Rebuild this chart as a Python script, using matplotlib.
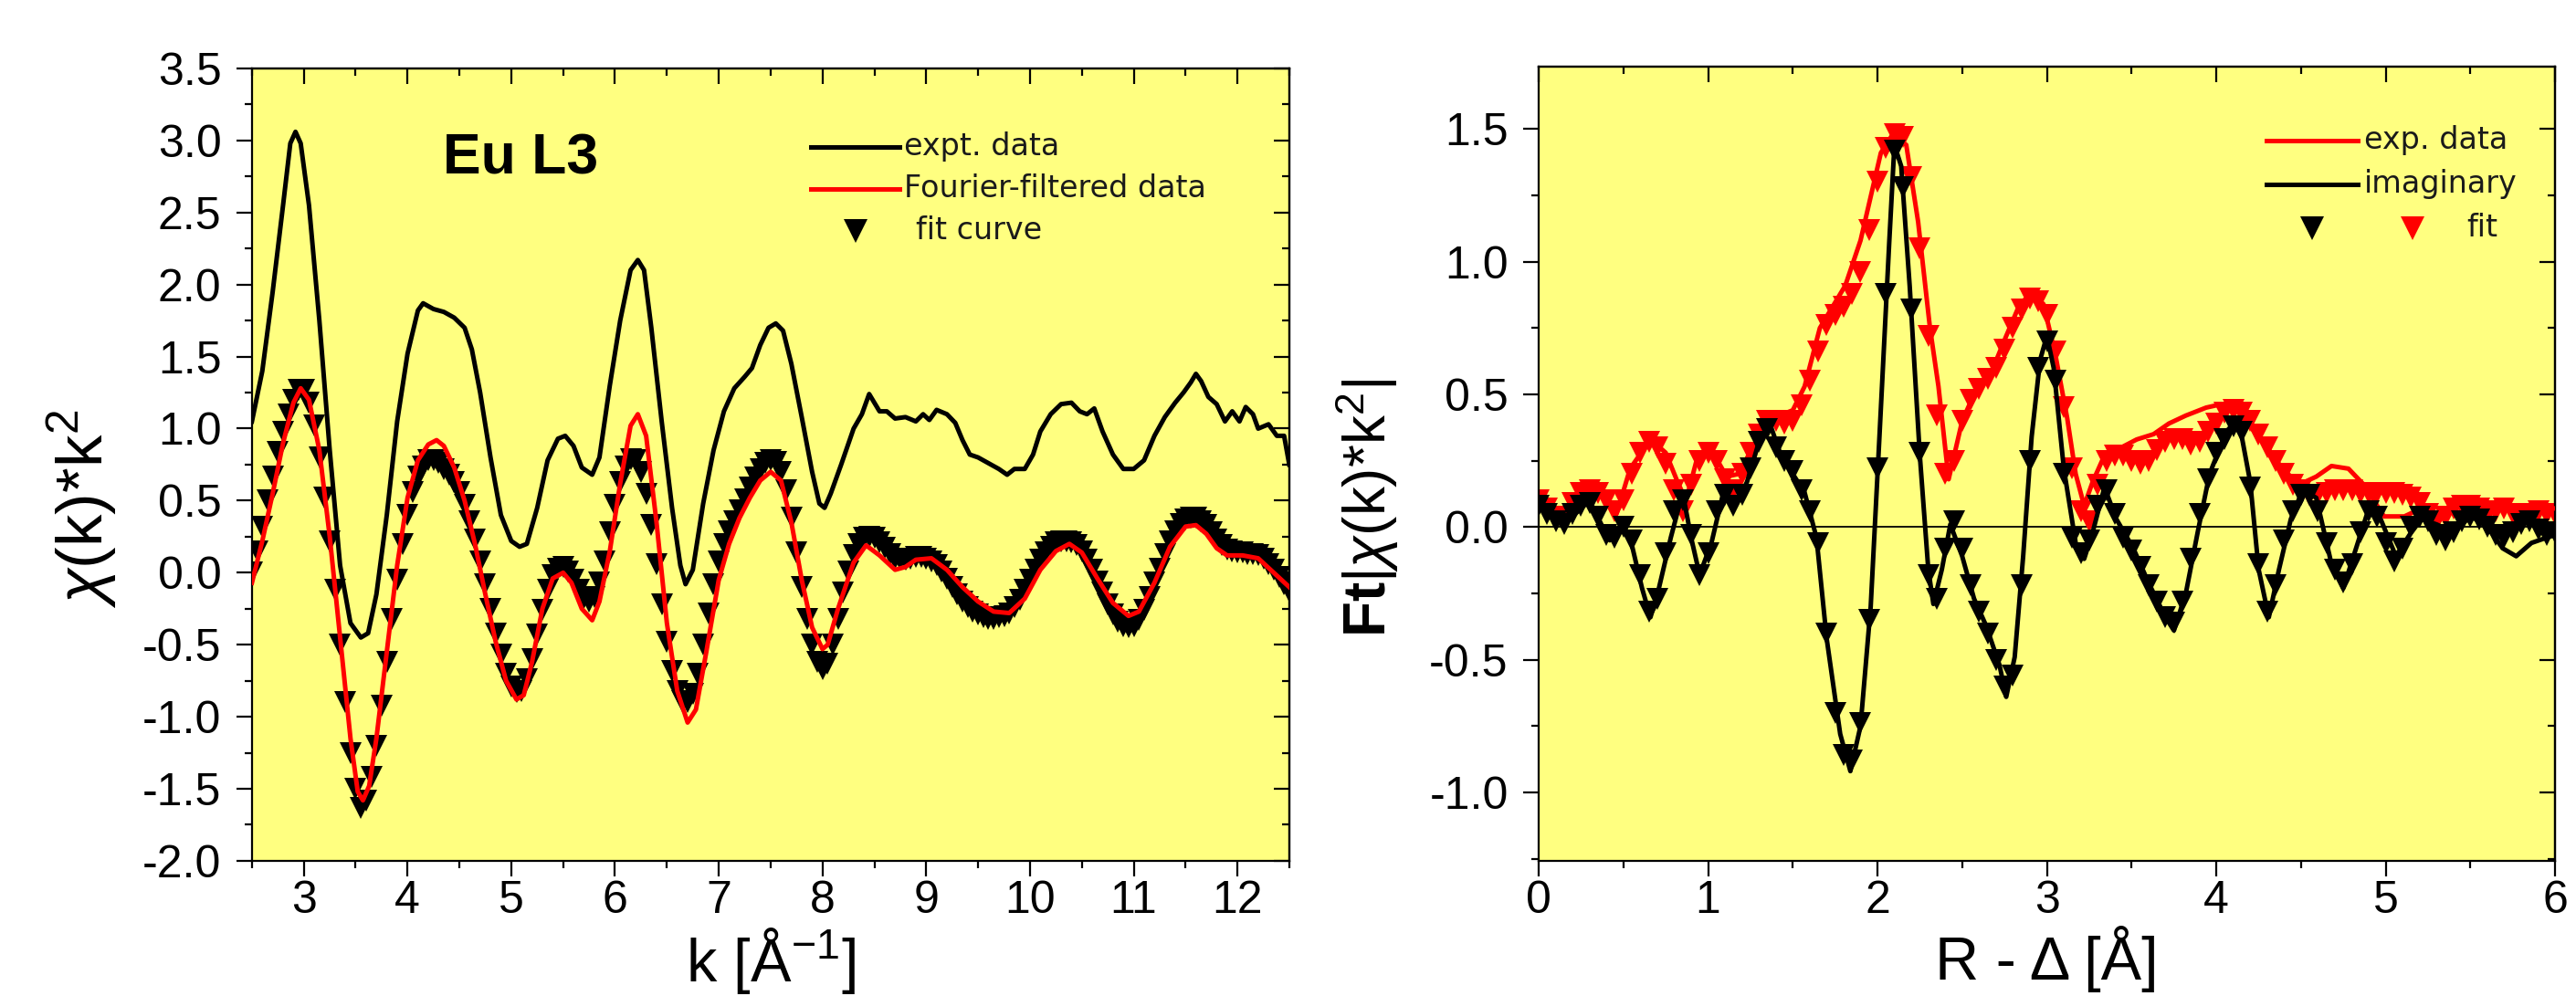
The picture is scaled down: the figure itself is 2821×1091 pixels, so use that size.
import numpy as np
import matplotlib
matplotlib.use('Agg')
import matplotlib.pyplot as plt
from matplotlib.ticker import MultipleLocator, FormatStrFormatter

plt.rcParams['font.family'] = ['Liberation Sans', 'DejaVu Sans']
plt.rcParams['mathtext.fontset'] = 'custom'
plt.rcParams['mathtext.rm'] = 'Liberation Sans'
plt.rcParams['mathtext.it'] = 'Liberation Sans:italic'
plt.rcParams['mathtext.bf'] = 'Liberation Sans:bold'
plt.rcParams['axes.unicode_minus'] = False

YELLOW = '#FFFF80'

# ---------------- k-space (left) ----------------
# expt. data (black line)
k_expt = [2.5, 2.6, 2.7, 2.8, 2.87, 2.92, 2.97, 3.05, 3.15, 3.25, 3.35, 3.45, 3.55, 3.62, 3.7,
          3.8, 3.9, 4.0, 4.1, 4.15, 4.25, 4.35, 4.45, 4.55, 4.62, 4.7, 4.8, 4.9, 5.0, 5.08,
          5.15, 5.25, 5.35, 5.45, 5.52, 5.6, 5.68, 5.78, 5.85, 5.95, 6.05, 6.15, 6.22, 6.28,
          6.35, 6.45, 6.55, 6.63, 6.68, 6.75, 6.85, 6.95, 7.05, 7.15, 7.25, 7.32, 7.4, 7.48,
          7.55, 7.62, 7.7, 7.8, 7.9, 7.97, 8.02, 8.08, 8.18, 8.3, 8.38, 8.45, 8.5, 8.55, 8.62,
          8.7, 8.8, 8.9, 8.97, 9.03, 9.1, 9.2, 9.28, 9.35, 9.42, 9.5, 9.6, 9.7, 9.78, 9.85,
          9.95, 10.03, 10.1, 10.2, 10.3, 10.4, 10.48, 10.55, 10.62, 10.7, 10.8, 10.9, 11.0,
          11.1, 11.2, 11.3, 11.4, 11.48, 11.55, 11.6, 11.65, 11.72, 11.8, 11.88, 11.95, 12.02,
          12.08, 12.15, 12.2, 12.3, 12.38, 12.45, 12.5]
chi_expt = [1.05, 1.40, 1.95, 2.55, 2.98, 3.06, 2.98, 2.55, 1.75, 0.85, 0.05, -0.35, -0.45, -0.42, -0.15,
            0.40, 1.05, 1.52, 1.82, 1.87, 1.83, 1.81, 1.77, 1.70, 1.55, 1.25, 0.80, 0.40, 0.22, 0.18,
            0.20, 0.45, 0.78, 0.93, 0.95, 0.88, 0.73, 0.68, 0.80, 1.30, 1.75, 2.10, 2.17, 2.10,
            1.70, 1.05, 0.45, 0.05, -0.08, 0.02, 0.48, 0.85, 1.12, 1.28, 1.36, 1.42, 1.58, 1.70,
            1.73, 1.68, 1.45, 1.08, 0.70, 0.48, 0.45, 0.55, 0.75, 1.00, 1.10, 1.24, 1.18, 1.12, 1.12,
            1.07, 1.08, 1.05, 1.10, 1.06, 1.13, 1.10, 1.04, 0.92, 0.82, 0.80, 0.76, 0.72, 0.68, 0.72,
            0.72, 0.82, 0.98, 1.10, 1.17, 1.18, 1.12, 1.10, 1.14, 0.98, 0.82, 0.72, 0.72,
            0.78, 0.95, 1.08, 1.18, 1.25, 1.32, 1.38, 1.33, 1.22, 1.17, 1.05, 1.12, 1.05,
            1.15, 1.10, 1.00, 1.03, 0.95, 0.95, 0.75]

# Fourier-filtered data (red line)
k_filt = [2.5, 2.6, 2.7, 2.8, 2.9, 2.97, 3.05, 3.15, 3.25, 3.35, 3.45, 3.52, 3.57, 3.63, 3.7,
          3.8, 3.9, 4.0, 4.1, 4.2, 4.28, 4.35, 4.45, 4.55, 4.65, 4.75, 4.85, 4.95, 5.05, 5.12,
          5.2, 5.3, 5.4, 5.5, 5.58, 5.68, 5.78, 5.85, 5.95, 6.05, 6.15, 6.22, 6.3, 6.4, 6.5,
          6.6, 6.7, 6.78, 6.88, 7.0, 7.1, 7.2, 7.3, 7.4, 7.5, 7.6, 7.7, 7.8, 7.9, 8.0, 8.05,
          8.15, 8.3, 8.42, 8.55, 8.7, 8.8, 8.9, 9.05, 9.2, 9.35, 9.5, 9.65, 9.8, 9.95, 10.1,
          10.25, 10.38, 10.5, 10.65, 10.8, 10.95, 11.05, 11.2, 11.35, 11.5, 11.6, 11.7, 11.8,
          11.9, 12.05, 12.2, 12.35, 12.5]
chi_filt = [-0.07, 0.22, 0.55, 0.90, 1.18, 1.28, 1.20, 0.85, 0.25, -0.45, -1.15, -1.52, -1.58, -1.48, -1.15,
            -0.55, 0.05, 0.52, 0.78, 0.89, 0.92, 0.88, 0.73, 0.50, 0.20, -0.15, -0.48, -0.75, -0.88, -0.85,
            -0.62, -0.25, -0.04, 0.00, -0.07, -0.25, -0.33, -0.20, 0.15, 0.62, 1.02, 1.10, 0.95, 0.35, -0.35,
            -0.82, -1.04, -0.95, -0.55, -0.05, 0.20, 0.38, 0.52, 0.64, 0.70, 0.64, 0.35, -0.05, -0.38, -0.53, -0.50,
            -0.25, 0.07, 0.19, 0.12, 0.02, 0.04, 0.09, 0.10, 0.02, -0.10, -0.20, -0.27, -0.28, -0.18, 0.02,
            0.15, 0.20, 0.14, -0.04, -0.21, -0.30, -0.27, -0.07, 0.18, 0.32, 0.33, 0.27, 0.17,
            0.12, 0.12, 0.10, 0.00, -0.10]

# fit curve (black triangles), read every 0.05 A^-1 from 2.5 to 12.5
k_fit = np.linspace(2.5, 12.5, 201)
chi_fit = [0.00, 0.15, 0.32, 0.50, 0.67, 0.84, 0.98, 1.10, 1.20, 1.27,
           1.27, 1.18, 1.02, 0.80, 0.52, 0.22, -0.12, -0.50, -0.90, -1.25,
           -1.50, -1.63, -1.58, -1.42, -1.20, -0.92, -0.62, -0.32, -0.05, 0.20,
           0.40, 0.56, 0.67, 0.74, 0.78, 0.78, 0.76, 0.72, 0.68, 0.63,
           0.56, 0.47, 0.36, 0.23, 0.08, -0.08, -0.25, -0.42, -0.57, -0.70,
           -0.79, -0.83, -0.82, -0.74, -0.60, -0.43, -0.26, -0.12, -0.02, 0.03,
           0.04, 0.01, -0.05, -0.12, -0.18, -0.20, -0.17, -0.07, 0.08, 0.28,
           0.47, 0.63, 0.74, 0.79, 0.78, 0.70, 0.55, 0.33, 0.06, -0.22,
           -0.48, -0.68, -0.82, -0.89, -0.90, -0.84, -0.70, -0.50, -0.28, -0.08,
           0.08, 0.20, 0.29, 0.36, 0.43, 0.51, 0.59, 0.66, 0.72, 0.76,
           0.78, 0.77, 0.70, 0.57, 0.38, 0.14, -0.10, -0.32, -0.50, -0.62,
           -0.67, -0.63, -0.50, -0.32, -0.14, 0.01, 0.12, 0.20, 0.24, 0.25,
           0.24, 0.21, 0.17, 0.13, 0.10, 0.09, 0.09, 0.10, 0.11, 0.11,
           0.10, 0.08, 0.05, 0.01, -0.04, -0.10, -0.15, -0.20, -0.24, -0.27,
           -0.29, -0.31, -0.32, -0.32, -0.31, -0.30, -0.28, -0.24, -0.19, -0.12,
           -0.05, 0.02, 0.09, 0.14, 0.18, 0.21, 0.22, 0.22, 0.21, 0.19,
           0.15, 0.09, 0.02, -0.06, -0.14, -0.22, -0.29, -0.34, -0.37, -0.38,
           -0.37, -0.33, -0.26, -0.17, -0.07, 0.03, 0.13, 0.22, 0.29, 0.34,
           0.37, 0.38, 0.38, 0.36, 0.33, 0.28, 0.23, 0.19, 0.16, 0.15,
           0.14, 0.14, 0.13, 0.13, 0.12, 0.10, 0.06, 0.02, -0.03, -0.08,
           -0.13]

# ---------------- R-space (right) ----------------
# exp. data, magnitude (red line)
r_mag = [0.0, 0.08, 0.15, 0.25, 0.32, 0.39, 0.46, 0.54, 0.66, 0.75, 0.82, 0.87, 0.94, 1.02, 1.11,
         1.18, 1.28, 1.38, 1.5, 1.57, 1.66, 1.81, 1.9, 2.02, 2.09, 2.17, 2.24, 2.31, 2.36, 2.42,
         2.5, 2.57, 2.67, 2.76, 2.84, 2.91, 2.98, 3.05, 3.12, 3.17, 3.22, 3.27, 3.34, 3.44, 3.53,
         3.63, 3.72, 3.82, 3.94, 4.01, 4.11, 4.2, 4.3, 4.39, 4.49, 4.59, 4.68, 4.78, 4.87, 4.99,
         5.11, 5.21, 5.3, 5.4, 5.5, 5.59, 5.69, 5.78, 5.88, 6.0]
ft_mag = [0.10, 0.07, 0.03, 0.10, 0.14, 0.13, 0.05, 0.22, 0.33, 0.28, 0.17, 0.10, 0.27, 0.29, 0.19,
          0.20, 0.32, 0.41, 0.44, 0.53, 0.75, 0.91, 1.08, 1.41, 1.48, 1.44, 1.15, 0.75, 0.53, 0.18,
          0.40, 0.50, 0.58, 0.72, 0.84, 0.88, 0.84, 0.65, 0.41, 0.20, 0.08, 0.17, 0.27, 0.30, 0.33,
          0.35, 0.39, 0.42, 0.45, 0.46, 0.45, 0.38, 0.30, 0.22, 0.16, 0.19, 0.23, 0.22, 0.16, 0.04,
          0.04, 0.07, 0.01, 0.10, 0.08, 0.05, 0.08, 0.05, 0.08, 0.07]

# imaginary part (black line)
r_im = [0.0, 0.08, 0.15, 0.25, 0.3, 0.37, 0.42, 0.49, 0.54, 0.61, 0.66, 0.71, 0.78, 0.85, 0.9,
        0.95, 1.02, 1.09, 1.16, 1.23, 1.3, 1.37, 1.43, 1.5, 1.57, 1.64, 1.7, 1.78, 1.84, 1.9,
        1.96, 2.01, 2.07, 2.1, 2.14, 2.19, 2.25, 2.3, 2.33, 2.38, 2.43, 2.5, 2.57, 2.64, 2.72,
        2.76, 2.81, 2.86, 2.91, 2.96, 3.0, 3.04, 3.1, 3.17, 3.22, 3.27, 3.34, 3.41, 3.51, 3.6,
        3.7, 3.75, 3.82, 3.89, 3.96, 4.06, 4.13, 4.2, 4.25, 4.31, 4.37, 4.44, 4.51, 4.59, 4.68,
        4.75, 4.82, 4.9, 4.97, 5.06, 5.14, 5.21, 5.3, 5.4, 5.5, 5.59, 5.69, 5.77, 5.86, 5.95, 6.0]
ft_im = [0.08, 0.04, 0.01, 0.07, 0.10, 0.01, -0.05, 0.01, -0.04, -0.23, -0.34, -0.23, -0.04, 0.13, -0.04,
         -0.18, -0.06, 0.13, 0.08, 0.17, 0.32, 0.38, 0.27, 0.20, 0.13, -0.04, -0.42, -0.78, -0.92, -0.75,
         -0.30, 0.32, 1.08, 1.44, 1.36, 0.91, 0.27, -0.16, -0.29, -0.16, 0.01, -0.11, -0.27, -0.37, -0.52,
         -0.64, -0.49, -0.11, 0.34, 0.63, 0.72, 0.60, 0.22, -0.06, -0.12, -0.02, 0.15, 0.03, -0.08, -0.21,
         -0.34, -0.39, -0.25, -0.02, 0.20, 0.36, 0.41, 0.17, -0.16, -0.34, -0.16, 0.03, 0.14, 0.11, -0.14,
         -0.23, -0.09, 0.07, 0.03, -0.11, -0.03, 0.03, 0.01, -0.02, 0.04, 0.01, -0.08, -0.11, -0.06, -0.04, -0.03]

# fit (triangles), read every 0.05 A from 0 to 6
r_fit = np.linspace(0.0, 6.0, 121)
ft_mag_fit = [0.10, 0.07, 0.04, 0.04, 0.09, 0.13, 0.14, 0.13, 0.10, 0.06,
              0.10, 0.20, 0.28, 0.32, 0.30, 0.24, 0.14, 0.06, 0.16, 0.25,
              0.28, 0.25, 0.18, 0.14, 0.20, 0.28, 0.35, 0.40, 0.40, 0.39,
              0.40, 0.46, 0.55, 0.66, 0.76, 0.80, 0.83, 0.88, 0.96, 1.12,
              1.30, 1.43, 1.48, 1.47, 1.32, 1.05, 0.72, 0.42, 0.20, 0.25,
              0.40, 0.48, 0.52, 0.56, 0.60, 0.67, 0.75, 0.82, 0.86, 0.85,
              0.80, 0.66, 0.45, 0.22, 0.06, 0.02, 0.16, 0.25, 0.27, 0.27,
              0.25, 0.24, 0.25, 0.29, 0.32, 0.33, 0.33, 0.31, 0.32, 0.36,
              0.39, 0.43, 0.44, 0.43, 0.40, 0.35, 0.30, 0.25, 0.20, 0.16,
              0.14, 0.12, 0.12, 0.13, 0.14, 0.14, 0.14, 0.13, 0.13, 0.13,
              0.13, 0.13, 0.12, 0.11, 0.09, 0.05, 0.02, 0.04, 0.07, 0.08,
              0.08, 0.07, 0.05, 0.06, 0.07, 0.05, 0.03, 0.05, 0.06, 0.05,
              0.05]
ft_im_fit = [0.08, 0.05, 0.02, 0.01, 0.05, 0.08, 0.09, 0.04, -0.03, -0.04,
             0.00, -0.05, -0.18, -0.32, -0.27, -0.10, 0.06, 0.10, -0.03, -0.18,
             -0.10, 0.06, 0.12, 0.08, 0.12, 0.22, 0.32, 0.37, 0.30, 0.25,
             0.21, 0.14, 0.06, -0.06, -0.40, -0.70, -0.86, -0.88, -0.74, -0.35,
             0.22, 0.88, 1.42, 1.28, 0.82, 0.28, -0.18, -0.27, -0.08, 0.02,
             -0.08, -0.22, -0.32, -0.40, -0.50, -0.60, -0.56, -0.22, 0.25, 0.60,
             0.70, 0.55, 0.20, -0.04, -0.10, -0.05, 0.08, 0.14, 0.05, -0.04,
             -0.09, -0.15, -0.22, -0.28, -0.34, -0.36, -0.28, -0.12, 0.05, 0.18,
             0.28, 0.33, 0.38, 0.36, 0.15, -0.14, -0.32, -0.22, -0.05, 0.06,
             0.12, 0.12, 0.06, -0.06, -0.16, -0.21, -0.14, -0.02, 0.06, 0.04,
             -0.06, -0.13, -0.08, 0.00, 0.04, 0.02, -0.03, -0.05, -0.02, 0.02,
             0.04, 0.03, 0.00, -0.03, -0.04, -0.02, 0.01, 0.02, -0.01, -0.03,
             -0.02]

LW = 3.6      # curve width
MS = 17       # triangle size
LEG_FONT = dict(family='DejaVu Sans', fontsize=24, color='#1a1a1a', va='center')


def style_axes(ax, xmaj, xmin, ymaj, ymin, yfmt):
    """Origin-like frame: ticks out on bottom/left, in on top/right"""
    ax.set_facecolor(YELLOW)
    for s in ax.spines.values():
        s.set_linewidth(1.6)
    ax.xaxis.set_major_locator(MultipleLocator(xmaj))
    ax.xaxis.set_minor_locator(MultipleLocator(xmin))
    ax.yaxis.set_major_locator(MultipleLocator(ymaj))
    ax.yaxis.set_minor_locator(MultipleLocator(ymin))
    ax.yaxis.set_major_formatter(FormatStrFormatter(yfmt))
    ax.tick_params(which='both', direction='out', width=1.6, labelsize=36)
    ax.tick_params(which='major', length=12)
    ax.tick_params(which='minor', length=6)
    ax.tick_params(axis='x', pad=3)
    ax.tick_params(axis='y', pad=12)

    top = ax.secondary_xaxis('top')
    top.xaxis.set_major_locator(MultipleLocator(xmaj))
    top.xaxis.set_minor_locator(MultipleLocator(xmin))
    top.tick_params(which='both', direction='in', width=1.6, labeltop=False)
    top.tick_params(which='major', length=12)
    top.tick_params(which='minor', length=6)
    top.spines['top'].set_linewidth(1.6)

    right = ax.secondary_yaxis('right')
    right.yaxis.set_major_locator(MultipleLocator(ymaj))
    right.yaxis.set_minor_locator(MultipleLocator(ymin))
    right.tick_params(which='both', direction='in', width=1.6, labelright=False)
    right.tick_params(which='major', length=12)
    right.tick_params(which='minor', length=6)
    right.spines['right'].set_linewidth(1.6)


fig = plt.figure(figsize=(28.21, 10.91), dpi=100)

# ---- left panel: chi(k)*k^2
ax1 = fig.add_axes([0.0978, 0.1357, 0.4027, 0.7956])
ax1.plot(k_fit, chi_fit, linestyle='none', marker='v', ms=MS, color='black', mew=0, zorder=2)
ax1.plot(k_expt, chi_expt, color='black', lw=LW, zorder=3)
ax1.plot(k_filt, chi_filt, color='red', lw=LW, zorder=4)
ax1.set_xlim(2.5, 12.5)
ax1.set_ylim(-2.0, 3.5)
style_axes(ax1, 1, 0.5, 0.5, 0.25, '%.1f')
ax1.set_xlabel('k [Å$^{-1}$]', fontsize=48)
ax1.xaxis.set_label_coords(0.5, -0.082)
ax1.set_ylabel(r'$\chi$(k)*k$^2$', fontsize=51)
ax1.yaxis.set_label_coords(-0.128, 0.444)
ax1.text(0.259, 0.886, 'Eu L3', transform=ax1.transAxes, fontsize=45,
         fontweight='bold', ha='center', va='center')

# legend (drawn by hand, like Origin)
tr = ax1.transAxes
ax1.plot([0.539, 0.624], [0.901, 0.901], transform=tr, color='black', lw=LW, clip_on=False)
ax1.text(0.629, 0.901, 'expt. data', transform=tr, **LEG_FONT)
ax1.plot([0.539, 0.624], [0.848, 0.848], transform=tr, color='red', lw=LW, clip_on=False)
ax1.text(0.629, 0.848, 'Fourier-filtered data', transform=tr, **LEG_FONT)
ax1.plot([0.582], [0.795], transform=tr, marker='v', ms=MS + 2, color='black', mew=0, linestyle='none')
ax1.text(0.640, 0.796, 'fit curve', transform=tr, **LEG_FONT)

# ---- right panel: FT magnitude and imaginary part
ax2 = fig.add_axes([0.5973, 0.1357, 0.3946, 0.7974])
ax2.axhline(0, color='black', lw=1.3, zorder=1)
ax2.plot(r_fit, ft_mag_fit, linestyle='none', marker='v', ms=MS, color='red', mew=0, zorder=2)
ax2.plot(r_mag, ft_mag, color='red', lw=LW, zorder=3)
ax2.plot(r_fit, ft_im_fit, linestyle='none', marker='v', ms=MS, color='black', mew=0, zorder=4)
ax2.plot(r_im, ft_im, color='black', lw=LW, zorder=5)
ax2.set_xlim(0, 6)
ax2.set_ylim(-1.258, 1.735)
style_axes(ax2, 1, 0.5, 0.5, 0.25, '%.1f')
ax2.xaxis.set_major_formatter(FormatStrFormatter('%d'))
ax2.set_xlabel('R - Δ [Å]', fontsize=48)
ax2.xaxis.set_label_coords(0.5, -0.082)
ax2.set_ylabel(r'$\mathbf{Ft}$|$\chi$(k)*k$^2$|', fontsize=46)
ax2.yaxis.set_label_coords(-0.136, 0.444)

tr = ax2.transAxes
ax2.plot([0.716, 0.806], [0.907, 0.907], transform=tr, color='red', lw=LW, clip_on=False)
ax2.text(0.812, 0.907, 'exp. data', transform=tr, **LEG_FONT)
ax2.plot([0.716, 0.806], [0.852, 0.852], transform=tr, color='black', lw=LW, clip_on=False)
ax2.text(0.812, 0.852, 'imaginary', transform=tr, **LEG_FONT)
ax2.plot([0.761], [0.797], transform=tr, marker='v', ms=MS + 2, color='black', mew=0, linestyle='none')
ax2.plot([0.860], [0.797], transform=tr, marker='v', ms=MS + 2, color='red', mew=0, linestyle='none')
ax2.text(0.913, 0.797, 'fit', transform=tr, **LEG_FONT)

fig.savefig('out.png', dpi=100)
